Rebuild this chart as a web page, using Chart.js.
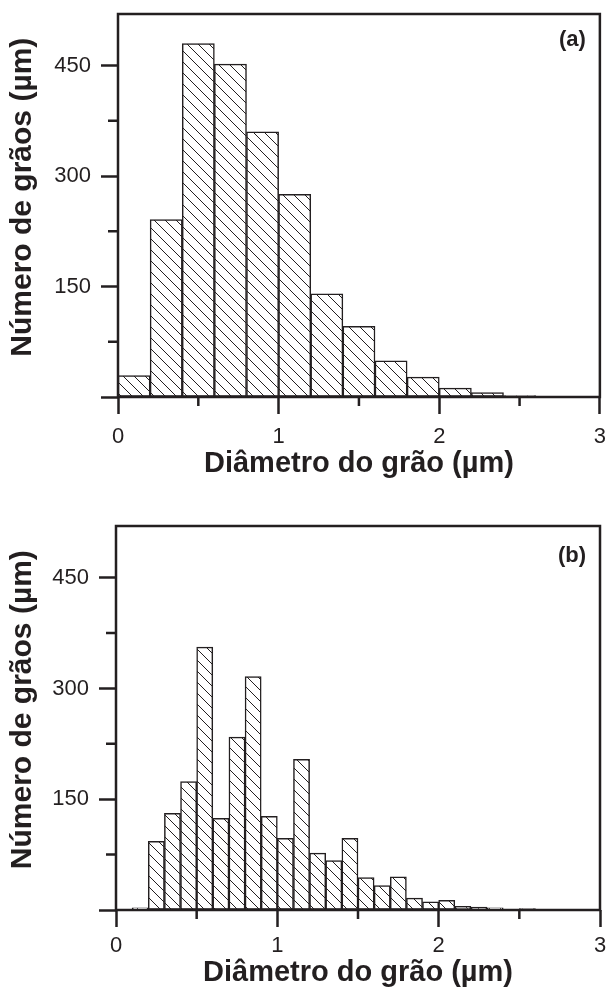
<!DOCTYPE html>
<html>
<head>
<meta charset="utf-8">
<script src="https://cdn.jsdelivr.net/npm/chart.js@4.4.0/dist/chart.umd.min.js"></script>
<style>
  body { margin: 0; background: #fff; }
  canvas { display: block; }
</style>
</head>
<body>
<canvas id="chartA" width="616" height="496"></canvas>
<canvas id="chartB" width="616" height="497"></canvas>
<script>
// histogram (a): bin centres, bins 0.2 um wide
const binsA = [0.1, 0.3, 0.5, 0.7, 0.9, 1.1, 1.3, 1.5, 1.7, 1.9, 2.1, 2.3, 2.5, 2.7]
const countsA = [29, 241, 480, 452, 360, 275, 140, 96, 49, 27, 12, 6, 2, 1]

// histogram (b): bin centres, bins 0.1 um wide
const binsB = [0.15, 0.25, 0.35, 0.45, 0.55, 0.65, 0.75, 0.85, 0.95, 1.05, 1.15, 1.25, 1.35,
               1.45, 1.55, 1.65, 1.75, 1.85, 1.95, 2.05, 2.15, 2.25, 2.35, 2.45, 2.55]
const countsB = [3, 93, 131, 174, 356, 124, 234, 316, 127, 97, 204, 77, 67,
                 97, 44, 33, 45, 16, 11, 13, 5, 4, 3, 0, 2]

const xTicks = [0, 1, 2, 3]
const xMinor = [0.5, 1.5, 2.5]
const yTicks = [0, 150, 300, 450]
const yMinor = [75, 225, 375]

const ink = '#231f20'
const family = '"Liberation Sans", Arial, sans-serif'

function hatch() {
  let c = document.createElement('canvas')
  c.width = 11
  c.height = 11
  let g = c.getContext('2d')
  g.fillStyle = '#fff'
  g.fillRect(0, 0, 11, 11)
  g.strokeStyle = ink
  g.lineWidth = 1
  g.beginPath()
  g.moveTo(-2, -2); g.lineTo(13, 13)
  g.moveTo(-2, 9); g.lineTo(2, 13)
  g.moveTo(9, -2); g.lineTo(13, 2)
  g.stroke()
  return g.createPattern(c, 'repeat')
}

const framePlugin = {
  id: 'frame',
  afterDatasetsDraw(chart, args, opts) {
    let {ctx, chartArea: a, scales: {x, y}} = chart
    ctx.save()
    ctx.strokeStyle = ink
    ctx.lineWidth = 2.5
    ctx.strokeRect(a.left, a.top, a.right - a.left, a.bottom - a.top)
    ctx.beginPath()
    for (let v of xMinor) {
      let px = x.getPixelForValue(v)
      ctx.moveTo(px, a.bottom)
      ctx.lineTo(px, a.bottom + 9)
    }
    for (let v of yMinor) {
      let py = y.getPixelForValue(v)
      ctx.moveTo(a.left, py)
      ctx.lineTo(a.left - 10, py)
    }
    ctx.stroke()
    ctx.fillStyle = ink
    ctx.font = 'bold 22px ' + family
    ctx.textAlign = 'right'
    ctx.textBaseline = 'middle'
    ctx.fillText(opts.tag, a.right - 14, a.top + opts.tagDy)
    ctx.restore()
  }
}

function draw(params) {
  let ctx = document.getElementById(params.elementId)
  new Chart(ctx, {
    type: 'bar',
    data: {
      datasets: [{
        data: params.bins.map((b, i) => ({x: b, y: params.counts[i]})),
        backgroundColor: hatch(),
        borderColor: ink,
        borderWidth: 1.5,
        borderSkipped: false,
        barPercentage: 1,
        categoryPercentage: 1
      }]
    },
    options: {
      responsive: false,
      animation: false,
      devicePixelRatio: 1,
      layout: {padding: {top: params.top, right: params.right, left: 0, bottom: 0}},
      plugins: {
        legend: {display: false},
        tooltip: {enabled: false},
        frame: {tag: params.tag, tagDy: params.tagDy}
      },
      scales: {
        x: {
          type: 'linear',
          min: 0,
          max: 3,
          offset: false,
          afterBuildTicks: s => { s.ticks = xTicks.map(v => ({value: v})) },
          afterFit: s => { s.height = params.xH },
          grid: {offset: false, drawOnChartArea: false, drawTicks: true, tickLength: 17, tickWidth: 2.5, tickColor: ink},
          border: {display: false},
          ticks: {padding: params.xPad, color: ink, maxRotation: 0, autoSkip: false, font: {family: family, size: 22}},
          title: {
            display: true,
            text: 'Diâmetro do grão (µm)',
            color: ink,
            font: {family: family, size: 29, weight: 'bold'},
            padding: {top: 0, bottom: params.xTitlePad}
          }
        },
        y: {
          min: 0,
          max: 520,
          afterBuildTicks: s => { s.ticks = yTicks.map(v => ({value: v})) },
          afterFit: s => {
            s.width = params.yW
            s.paddingTop = 0
            s.paddingBottom = 0
          },
          grid: {drawOnChartArea: false, drawTicks: true, tickLength: 17, tickWidth: 2.5, tickColor: ink},
          border: {display: false},
          ticks: {
            padding: 10,
            color: ink,
            font: {family: family, size: 22},
            callback: v => v === 0 ? '' : String(v)
          },
          title: {
            display: true,
            // two leading spaces nudge the rotated title up, as in the original
            text: '  Número de grãos (µm)',
            color: ink,
            font: {family: family, size: 30, weight: 'bold'},
            padding: {top: 5, bottom: 0}
          }
        }
      }
    },
    plugins: [framePlugin]
  })
}

draw({elementId: 'chartA', bins: binsA, counts: countsA, tag: '(a)', tagDy: 26,
      top: 14, right: 11, yW: 118, xH: 99, xPad: 10, xTitlePad: 15})
draw({elementId: 'chartB', bins: binsB, counts: countsB, tag: '(b)', tagDy: 30,
      top: 30, right: 16, yW: 116, xH: 83, xPad: 6, xTitlePad: 3})
</script>
</body>
</html>
